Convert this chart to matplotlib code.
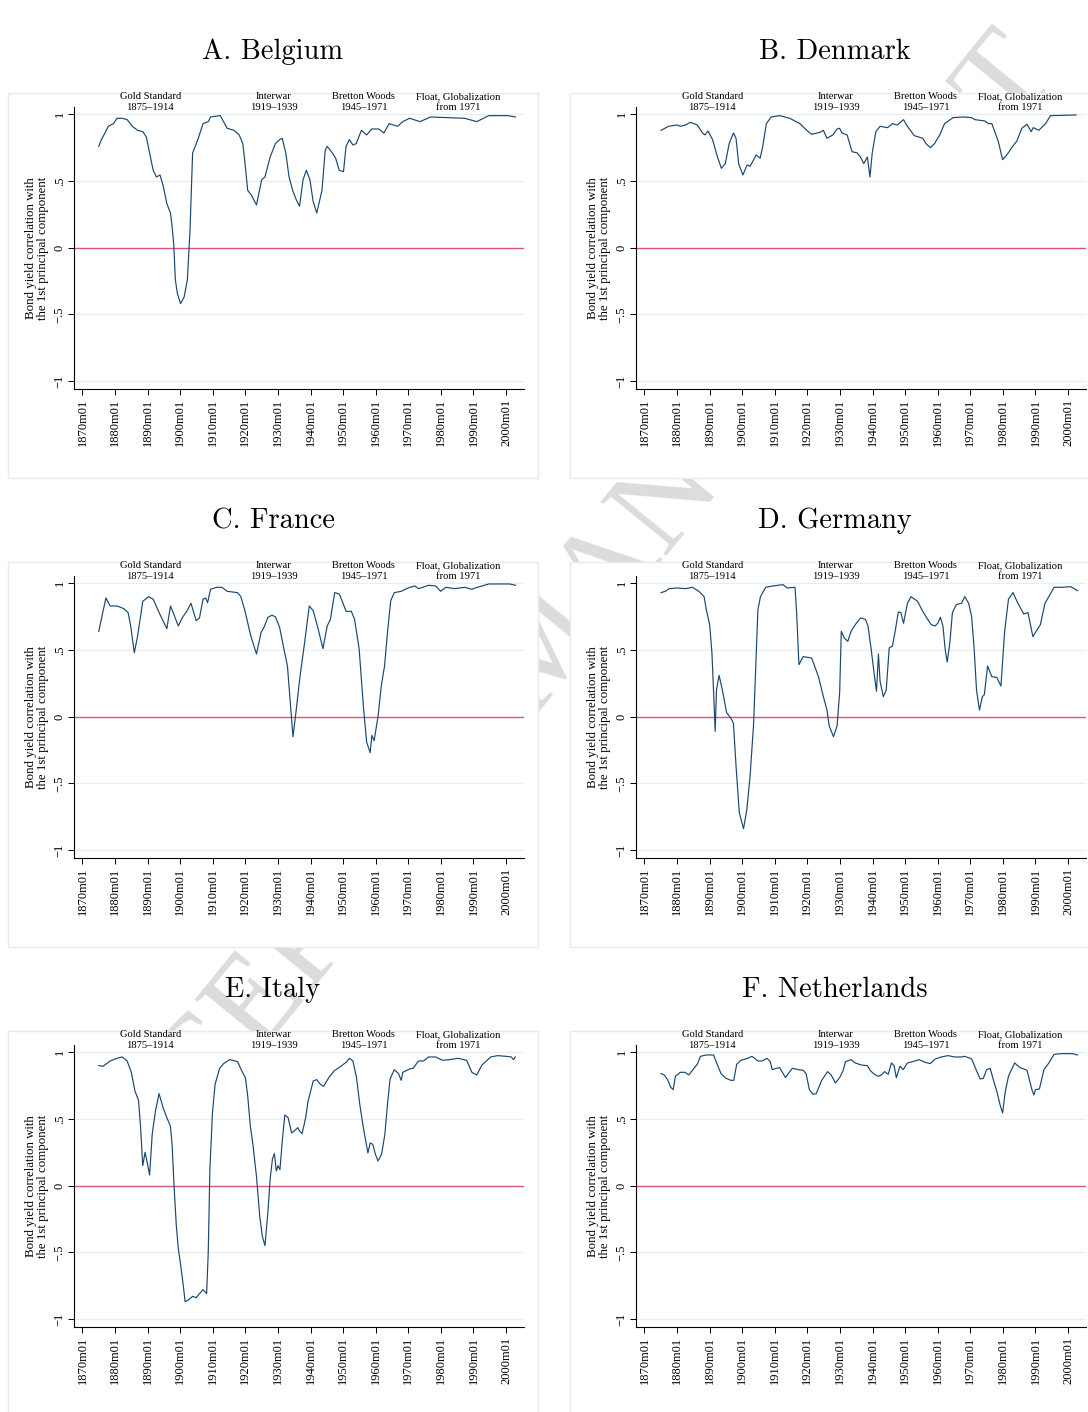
import matplotlib
matplotlib.use("Agg")
import matplotlib.pyplot as plt
from matplotlib.patches import Rectangle

# ---------------- data (decimal year, correlation) ----------------
belgium_years = [1875.0, 1875.8, 1876.9, 1877.9, 1879.5, 1880.6, 1882.2, 1883.7, 1885.3, 1886.9,
                 1888.5, 1889.6, 1890.6, 1891.7, 1892.7, 1893.8, 1894.8, 1895.9, 1897.0, 1897.5,
                 1898.0, 1898.5, 1899.1, 1900.1, 1901.2, 1902.2, 1903.0, 1903.8, 1905.4, 1907.0,
                 1908.6, 1909.3, 1912.3, 1914.4, 1916.5, 1918.1, 1919.2, 1919.9, 1920.7, 1921.8,
                 1923.4, 1925.0, 1926.0, 1927.6, 1929.2, 1930.5, 1931.3, 1932.4, 1933.4, 1934.5,
                 1935.6, 1936.6, 1937.7, 1938.7, 1939.8, 1940.8, 1941.9, 1943.5, 1944.5, 1945.1,
                 1946.7, 1947.7, 1948.8, 1950.1, 1950.9, 1951.9, 1953.0, 1954.0, 1955.6, 1957.2,
                 1958.8, 1960.9, 1962.5, 1964.1, 1966.7, 1968.3, 1970.4, 1973.6, 1976.8, 1982.1,
                 1987.3, 1991.0, 1994.7, 2000.5, 2002.9]
belgium_vals = [0.76, 0.81, 0.86, 0.91, 0.93, 0.97, 0.97, 0.96, 0.91, 0.88,
                0.87, 0.83, 0.71, 0.58, 0.53, 0.545, 0.46, 0.33, 0.26, 0.16,
                0.03, -0.24, -0.34, -0.42, -0.37, -0.24, 0.13, 0.71, 0.81, 0.93,
                0.945, 0.98, 0.99, 0.895, 0.88, 0.845, 0.78, 0.63, 0.43, 0.395,
                0.32, 0.51, 0.53, 0.68, 0.78, 0.81, 0.82, 0.71, 0.53, 0.43,
                0.36, 0.31, 0.51, 0.58, 0.51, 0.345, 0.26, 0.43, 0.73, 0.76,
                0.71, 0.67, 0.58, 0.57, 0.76, 0.81, 0.77, 0.78, 0.88, 0.845,
                0.89, 0.89, 0.86, 0.93, 0.91, 0.945, 0.97, 0.945, 0.98, 0.975,
                0.97, 0.945, 0.99, 0.99, 0.98]

denmark_years = [1875.1, 1877.4, 1880.0, 1881.0, 1882.6, 1884.1, 1886.2, 1887.8, 1888.6, 1889.5,
                 1890.9, 1892.4, 1893.6, 1894.8, 1896.0, 1897.3, 1898.1, 1898.9, 1900.2, 1901.5,
                 1902.4, 1904.3, 1905.5, 1906.3, 1907.4, 1908.9, 1911.5, 1914.6, 1917.7, 1919.8,
                 1921.3, 1923.9, 1924.9, 1926.0, 1927.8, 1929.1, 1929.9, 1930.6, 1932.2, 1933.7,
                 1935.3, 1936.3, 1937.3, 1938.4, 1939.2, 1939.9, 1941.0, 1942.3, 1944.6, 1946.1,
                 1947.6, 1949.5, 1950.7, 1952.8, 1955.4, 1956.4, 1957.8, 1959.0, 1960.6, 1962.1,
                 1964.7, 1967.8, 1970.4, 1971.4, 1974.5, 1975.5, 1976.6, 1978.6, 1979.9, 1981.2,
                 1983.3, 1984.3, 1985.8, 1987.4, 1988.7, 1989.3, 1991.0, 1993.1, 1994.6, 2002.4]
denmark_vals = [0.88, 0.91, 0.92, 0.91, 0.92, 0.94, 0.92, 0.86, 0.845, 0.875,
                0.81, 0.68, 0.595, 0.63, 0.78, 0.86, 0.82, 0.63, 0.545, 0.62,
                0.61, 0.695, 0.67, 0.76, 0.93, 0.98, 0.99, 0.97, 0.93, 0.88,
                0.85, 0.865, 0.88, 0.82, 0.845, 0.89, 0.895, 0.86, 0.845, 0.72,
                0.71, 0.68, 0.63, 0.68, 0.53, 0.71, 0.87, 0.91, 0.90, 0.93,
                0.92, 0.96, 0.91, 0.84, 0.82, 0.78, 0.75, 0.78, 0.845, 0.93,
                0.975, 0.98, 0.975, 0.96, 0.95, 0.93, 0.93, 0.795, 0.66, 0.695,
                0.77, 0.80, 0.895, 0.925, 0.87, 0.90, 0.88, 0.93, 0.99, 0.995]

france_years = [1875.0, 1876.0, 1877.2, 1878.5, 1880.6, 1882.7, 1884.0, 1884.8, 1885.9, 1886.9,
                1888.5, 1890.3, 1891.7, 1893.8, 1895.9, 1897.0, 1898.0, 1899.4, 1900.7, 1902.0,
                1903.3, 1904.9, 1905.9, 1907.0, 1907.8, 1908.4, 1909.3, 1911.2, 1912.8, 1914.4,
                1917.6, 1918.6, 1919.9, 1921.6, 1923.4, 1924.8, 1925.8, 1926.9, 1928.1, 1929.2,
                1930.5, 1931.8, 1932.9, 1933.7, 1934.6, 1935.5, 1936.8, 1938.2, 1939.6, 1940.8,
                1942.1, 1943.8, 1945.1, 1946.1, 1947.4, 1948.8, 1949.8, 1950.9, 1952.5, 1953.5,
                1954.9, 1956.2, 1957.2, 1958.3, 1958.8, 1959.5, 1960.7, 1961.7, 1962.7, 1963.6,
                1964.6, 1965.7, 1967.8, 1969.9, 1972.0, 1973.1, 1976.2, 1978.4, 1979.9, 1981.5,
                1984.2, 1987.3, 1989.5, 1990.5, 1992.6, 1994.7, 2001.1, 2002.9]
france_vals = [0.64, 0.755, 0.89, 0.83, 0.83, 0.81, 0.78, 0.68, 0.48, 0.60,
               0.865, 0.90, 0.88, 0.765, 0.66, 0.83, 0.77, 0.68, 0.745, 0.79,
               0.85, 0.72, 0.74, 0.88, 0.89, 0.855, 0.955, 0.97, 0.97, 0.94,
               0.93, 0.90, 0.79, 0.61, 0.47, 0.63, 0.675, 0.745, 0.76, 0.75,
               0.67, 0.51, 0.38, 0.13, -0.15, 0.03, 0.31, 0.56, 0.83, 0.795,
               0.68, 0.51, 0.68, 0.73, 0.93, 0.92, 0.86, 0.79, 0.79, 0.73,
               0.51, 0.08, -0.19, -0.27, -0.14, -0.18, 0.0, 0.23, 0.38, 0.63,
               0.87, 0.93, 0.94, 0.965, 0.98, 0.96, 0.985, 0.98, 0.94, 0.97,
               0.96, 0.97, 0.955, 0.965, 0.98, 0.995, 0.995, 0.985]

germany_years = [1875.1, 1876.4, 1877.6, 1880.0, 1882.6, 1884.7, 1886.7, 1888.3, 1889.0, 1890.0,
                 1890.7, 1891.1, 1891.7, 1892.1, 1892.9, 1893.9, 1895.2, 1896.5, 1897.3, 1898.1,
                 1899.1, 1900.4, 1901.4, 1902.4, 1903.5, 1904.8, 1905.6, 1907.2, 1909.4, 1912.5,
                 1913.8, 1916.2, 1916.7, 1917.4, 1918.7, 1921.3, 1923.4, 1924.9, 1926.0, 1926.7,
                 1928.0, 1929.1, 1929.9, 1930.4, 1931.3, 1932.4, 1933.4, 1934.7, 1936.3, 1937.8,
                 1938.6, 1939.6, 1940.6, 1941.2, 1941.8, 1942.3, 1943.3, 1944.2, 1945.1, 1946.1,
                 1947.0, 1947.9, 1948.7, 1949.5, 1950.7, 1951.8, 1953.8, 1955.4, 1956.9, 1958.0,
                 1959.2, 1960.0, 1960.8, 1961.6, 1962.3, 1962.9, 1963.7, 1964.5, 1965.7, 1967.3,
                 1968.3, 1969.5, 1970.4, 1971.2, 1971.9, 1972.8, 1973.7, 1974.3, 1975.3, 1976.6,
                 1978.1, 1979.4, 1980.5, 1981.7, 1983.1, 1984.5, 1986.4, 1987.7, 1989.2, 1990.2,
                 1991.5, 1992.9, 1994.1, 1995.7, 1998.2, 2000.8, 2002.9]
germany_vals = [0.93, 0.94, 0.96, 0.965, 0.96, 0.97, 0.94, 0.90, 0.80, 0.69,
                0.48, 0.25, -0.11, 0.20, 0.31, 0.20, 0.03, -0.01, -0.05, -0.37,
                -0.72, -0.84, -0.70, -0.45, -0.05, 0.80, 0.90, 0.97, 0.98, 0.99,
                0.965, 0.97, 0.78, 0.39, 0.45, 0.44, 0.30, 0.15, 0.05, -0.07,
                -0.15, -0.07, 0.18, 0.64, 0.59, 0.565, 0.64, 0.69, 0.74, 0.73,
                0.68, 0.50, 0.30, 0.19, 0.47, 0.265, 0.15, 0.20, 0.515, 0.53,
                0.65, 0.785, 0.78, 0.70, 0.85, 0.90, 0.865, 0.79, 0.73, 0.69,
                0.68, 0.70, 0.745, 0.68, 0.50, 0.41, 0.55, 0.78, 0.84, 0.85,
                0.90, 0.85, 0.75, 0.50, 0.20, 0.05, 0.15, 0.165, 0.38, 0.30,
                0.295, 0.23, 0.63, 0.88, 0.93, 0.855, 0.77, 0.78, 0.60, 0.64,
                0.69, 0.85, 0.90, 0.97, 0.97, 0.975, 0.945]

italy_years = [1875.0, 1876.3, 1878.5, 1880.6, 1882.2, 1883.7, 1885.0, 1886.1, 1887.2, 1887.8,
               1888.5, 1889.2, 1889.9, 1890.6, 1891.4, 1892.4, 1893.5, 1894.8, 1895.9, 1897.0,
               1897.5, 1898.1, 1898.8, 1899.4, 1900.1, 1900.9, 1901.5, 1902.6, 1903.8, 1904.9,
               1905.9, 1907.0, 1908.1, 1908.6, 1909.1, 1909.9, 1910.7, 1912.1, 1913.3, 1915.2,
               1917.6, 1918.9, 1920.0, 1920.7, 1921.5, 1922.3, 1923.4, 1924.4, 1925.2, 1926.0,
               1926.9, 1927.6, 1928.3, 1928.9, 1929.5, 1930.0, 1930.6, 1931.3, 1932.1, 1933.1,
               1934.2, 1935.0, 1936.1, 1936.6, 1937.4, 1938.5, 1939.2, 1940.3, 1940.8, 1941.9,
               1943.0, 1944.0, 1945.6, 1947.2, 1949.3, 1950.9, 1952.0, 1953.0, 1954.1, 1955.1,
               1956.2, 1957.6, 1958.3, 1959.1, 1959.9, 1960.7, 1961.8, 1962.8, 1963.6, 1964.4,
               1965.7, 1967.0, 1967.8, 1968.3, 1970.4, 1971.5, 1973.1, 1974.7, 1976.2, 1978.4,
               1980.5, 1982.6, 1985.3, 1987.9, 1989.5, 1991.0, 1992.6, 1995.3, 1997.4, 2000.0,
               2001.6, 2002.3, 2002.8]
italy_vals = [0.90, 0.895, 0.935, 0.955, 0.965, 0.935, 0.85, 0.71, 0.64, 0.45,
              0.15, 0.25, 0.17, 0.08, 0.385, 0.56, 0.69, 0.58, 0.51, 0.445,
              0.31, 0.0, -0.30, -0.47, -0.59, -0.74, -0.87, -0.855, -0.83, -0.84,
              -0.81, -0.78, -0.81, -0.50, 0.12, 0.55, 0.76, 0.88, 0.915, 0.945,
              0.93, 0.86, 0.81, 0.675, 0.45, 0.31, 0.07, -0.23, -0.38, -0.45,
              -0.20, 0.05, 0.20, 0.24, 0.11, 0.15, 0.12, 0.33, 0.53, 0.51,
              0.395, 0.41, 0.435, 0.41, 0.39, 0.51, 0.63, 0.735, 0.785, 0.795,
              0.76, 0.745, 0.81, 0.86, 0.895, 0.925, 0.955, 0.935, 0.81, 0.61,
              0.435, 0.245, 0.32, 0.31, 0.235, 0.185, 0.235, 0.385, 0.61, 0.80,
              0.87, 0.84, 0.79, 0.85, 0.875, 0.88, 0.935, 0.935, 0.965, 0.965,
              0.94, 0.945, 0.955, 0.94, 0.85, 0.83, 0.905, 0.965, 0.975, 0.97,
              0.965, 0.945, 0.965]

netherlands_years = [1875.1, 1876.1, 1877.2, 1878.0, 1878.8, 1879.5, 1881.0, 1882.4, 1883.6, 1885.2,
                     1886.2, 1887.2, 1889.0, 1891.2, 1892.4, 1893.5, 1895.0, 1896.5, 1897.4, 1898.3,
                     1899.6, 1901.7, 1903.0, 1904.8, 1906.1, 1907.6, 1908.6, 1909.2, 1910.5, 1911.5,
                     1912.2, 1913.3, 1914.1, 1915.4, 1917.2, 1918.7, 1919.6, 1920.6, 1921.7, 1922.7,
                     1924.4, 1926.2, 1927.3, 1928.6, 1929.9, 1931.0, 1931.7, 1933.4, 1934.7, 1936.5,
                     1938.4, 1939.4, 1940.6, 1941.7, 1942.7, 1943.7, 1944.8, 1945.8, 1946.6, 1947.3,
                     1948.4, 1949.4, 1950.7, 1952.3, 1954.3, 1956.1, 1957.7, 1959.2, 1961.1, 1963.1,
                     1965.2, 1967.3, 1968.3, 1970.4, 1971.6, 1973.0, 1974.0, 1975.0, 1976.1, 1977.1,
                     1978.1, 1979.2, 1979.9, 1980.7, 1981.7, 1983.6, 1985.3, 1987.4, 1988.9, 1989.5,
                     1990.0, 1991.2, 1992.6, 1994.1, 1995.7, 1998.2, 2001.3, 2002.9]
netherlands_vals = [0.84, 0.83, 0.79, 0.74, 0.72, 0.82, 0.85, 0.85, 0.83, 0.88,
                    0.91, 0.97, 0.98, 0.98, 0.905, 0.84, 0.805, 0.79, 0.79, 0.91,
                    0.94, 0.955, 0.97, 0.935, 0.935, 0.955, 0.93, 0.87, 0.88, 0.885,
                    0.855, 0.81, 0.84, 0.88, 0.87, 0.865, 0.84, 0.72, 0.685, 0.69,
                    0.79, 0.855, 0.83, 0.77, 0.81, 0.865, 0.93, 0.945, 0.92, 0.905,
                    0.90, 0.86, 0.835, 0.82, 0.83, 0.855, 0.835, 0.92, 0.90, 0.81,
                    0.895, 0.87, 0.92, 0.93, 0.945, 0.925, 0.915, 0.95, 0.965, 0.975,
                    0.965, 0.965, 0.97, 0.95, 0.88, 0.80, 0.805, 0.87, 0.88, 0.79,
                    0.71, 0.60, 0.545, 0.70, 0.82, 0.92, 0.885, 0.865, 0.72, 0.68,
                    0.72, 0.725, 0.87, 0.92, 0.985, 0.99, 0.99, 0.98]

panel_titles = ["A. Belgium", "B. Denmark", "C. France", "D. Germany", "E. Italy", "F. Netherlands"]
panel_years = [belgium_years, denmark_years, france_years, germany_years, italy_years, netherlands_years]
panel_vals = [belgium_vals, denmark_vals, france_vals, germany_vals, italy_vals, netherlands_vals]

x_tick_years = [1870, 1880, 1890, 1900, 1910, 1920, 1930, 1940, 1950, 1960, 1970, 1980, 1990, 2000]
x_tick_labels = ["%dm01" % y for y in x_tick_years]
y_ticks = [-1, -0.5, 0, 0.5, 1]
y_tick_labels = ["\u22121", "\u2212.5", "0", ".5", "1"]

regime_names = ["Gold Standard", "Interwar", "Bretton Woods", "Float, Globalization"]
regime_periods = ["1875\u20131914", "1919\u20131939", "1945\u20131971", "from 1971"]
regime_centers = [1890.8, 1928.7, 1956.3, 1985.3]

ylabel_text = "Bond yield correlation with\nthe 1st principal component"

# ---------------- styling ----------------
W, H = 1088, 1412
SERIF = ["Liberation Serif", "DejaVu Serif"]
NAVY = "#1a476f"
ZERO = "#d6587a"
GRID = "#e6eeef"
BOXC = "#e4ecec"

fig = plt.figure(figsize=(W / 100, H / 100), dpi=100)
fig.patch.set_facecolor("white")

# watermark (behind the panel boxes)
fig.text(575 / W, 1 - 668 / H, "ACCEPTED MANUSCRIPT", fontsize=93, color="#dcdcdc",
         family=SERIF, rotation=50.8, rotation_mode="anchor",
         ha="center", va="baseline", zorder=-5)

row_pitch = 469
col_shift = 562

for i in range(6):
    r, c = divmod(i, 2)
    dx = c * col_shift
    dy = r * row_pitch

    # panel box
    bx0, bx1 = 8 + dx, 538 + dx
    by0, by1 = 93 + dy, 478 + dy
    fig.patches.append(Rectangle((bx0 / W, 1 - by1 / H), (bx1 - bx0) / W, (by1 - by0) / H,
                                 transform=fig.transFigure, facecolor="white",
                                 edgecolor=BOXC, linewidth=1.0, zorder=-1))

    # title
    fig.text((273 + dx) / W, 1 - (52 + dy) / H, panel_titles[i], fontsize=20.5,
             family="cmr10", ha="center", va="center", color="black")

    # axes
    ax_l, ax_r = 74 + dx, 524 + dx
    ax_t, ax_b = 106.7 + dy, 389.3 + dy
    ax = fig.add_axes([ax_l / W, 1 - ax_b / H, (ax_r - ax_l) / W, (ax_b - ax_t) / H])
    ax.set_facecolor("white")
    ax.set_xlim(1867.4, 2005.5)
    ax.set_ylim(-1.062, 1.057)

    for yv in [1, 0.5, -0.5, -1]:
        ax.axhline(yv, color=GRID, lw=0.9, zorder=1)
    ax.axhline(0, color=ZERO, lw=1.0, zorder=2)
    ax.plot(panel_years[i], panel_vals[i], color=NAVY, lw=0.85, zorder=3)

    for s in ["top", "right"]:
        ax.spines[s].set_visible(False)
    for s in ["left", "bottom"]:
        ax.spines[s].set_linewidth(0.8)
        ax.spines[s].set_color("black")

    ax.set_xticks(x_tick_years)
    ax.set_xticklabels(x_tick_labels, rotation=90, fontsize=9, family=SERIF)
    ax.set_yticks(y_ticks)
    ax.set_yticklabels(y_tick_labels, rotation=90, fontsize=9, family=SERIF, va="center")
    ax.tick_params(axis="x", length=4, width=0.7, pad=3)
    ax.tick_params(axis="y", length=4, width=0.7, pad=2)

    ax.text(-37 / (ax_r - ax_l), 0.5, ylabel_text, transform=ax.transAxes, rotation=90,
            ha="center", va="center", fontsize=9.3, family=SERIF, linespacing=1.05)

    for name, per, xc in zip(regime_names, regime_periods, regime_centers):
        ax.text(xc, 1.13, name, fontsize=7.6, family=SERIF, ha="center", va="center",
                clip_on=False)
        ax.text(xc, 1.052, per, fontsize=7.6, family=SERIF, ha="center", va="center",
                clip_on=False)

fig.savefig("out.png", dpi=100, facecolor="white")
